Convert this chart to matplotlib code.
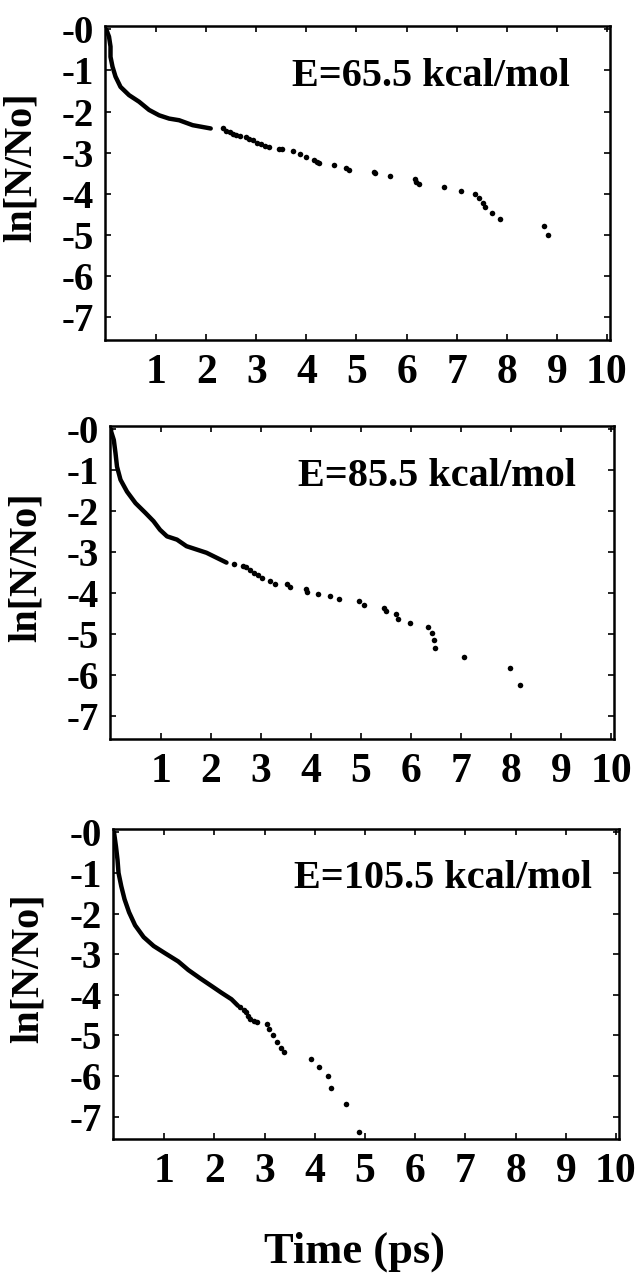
import numpy as np
import matplotlib
matplotlib.use('Agg')
import matplotlib.pyplot as plt

plt.rcParams['font.family'] = ['Liberation Serif', 'DejaVu Serif']
plt.rcParams['font.weight'] = 'bold'

# energies shown in each panel
labels = ['E=65.5 kcal/mol', 'E=85.5 kcal/mol', 'E=105.5 kcal/mol']

# dense (line-like) part of each decay curve
curve1_t = [0, 0.02, 0.06, 0.09, 0.09, 0.13, 0.19, 0.29, 0.46, 0.66, 0.86, 1.06, 1.26, 1.46, 1.73, 2.09]
curve1_y = [0, -0.05, -0.18, -0.42, -0.67, -0.91, -1.15, -1.40, -1.60, -1.76, -1.96, -2.09, -2.17, -2.21, -2.33, -2.41]
curve2_t = [0, 0.004, 0.056, 0.09, 0.12, 0.19, 0.32, 0.49, 0.69, 0.85, 0.98, 1.12, 1.32, 1.51, 1.71, 1.91, 2.11, 2.31]
curve2_y = [0, -0.06, -0.26, -0.58, -0.91, -1.23, -1.52, -1.80, -2.04, -2.24, -2.45, -2.61, -2.69, -2.85, -2.93, -3.01, -3.13, -3.25]
curve3_t = [0, 0.04, 0.07, 0.09, 0.145, 0.21, 0.30, 0.42, 0.59, 0.79, 1.02, 1.28, 1.48, 1.71, 1.95, 2.14, 2.34, 2.47]
curve3_y = [0, -0.36, -0.68, -1.0, -1.33, -1.65, -1.97, -2.29, -2.58, -2.80, -2.98, -3.18, -3.39, -3.59, -3.79, -3.95, -4.11, -4.27]

# separate dots at later times
dots1_t = [2.33, 2.40, 2.47, 2.54, 2.60, 2.68, 2.79, 2.86, 2.93, 3.02, 3.09, 3.18, 3.26, 3.46, 3.51, 3.74, 3.87,
           3.99, 4.16, 4.21, 4.25, 4.56, 4.79, 4.85, 5.35, 5.37, 5.66, 6.16, 6.19, 6.24, 6.74, 7.09, 7.36, 7.45,
           7.53, 7.56, 7.71, 7.86, 8.75, 8.82]
dots1_y = [-2.41, -2.46, -2.50, -2.54, -2.57, -2.59, -2.61, -2.66, -2.69, -2.76, -2.79, -2.83, -2.86, -2.90, -2.92,
           -2.96, -3.04, -3.11, -3.18, -3.22, -3.26, -3.30, -3.36, -3.41, -3.46, -3.50, -3.57, -3.63, -3.71, -3.76,
           -3.84, -3.92, -4.01, -4.11, -4.21, -4.33, -4.46, -4.62, -4.78, -5.01]
dots2_t = [2.45, 2.64, 2.70, 2.78, 2.86, 2.94, 3.02, 3.18, 3.27, 3.52, 3.57, 3.90, 3.91, 4.13, 4.38, 4.55, 4.95,
           5.06, 5.46, 5.50, 5.69, 5.74, 5.97, 6.34, 6.42, 6.45, 6.47, 7.05, 7.98, 8.18]
dots2_y = [-3.28, -3.34, -3.36, -3.43, -3.50, -3.56, -3.62, -3.70, -3.76, -3.78, -3.84, -3.90, -3.96, -4.01, -4.07,
           -4.14, -4.19, -4.28, -4.35, -4.43, -4.51, -4.62, -4.72, -4.83, -4.97, -5.13, -5.32, -5.54, -5.83, -6.23]
dots3_t = [2.51, 2.58, 2.63, 2.67, 2.71, 2.78, 2.84, 3.04, 3.08, 3.16, 3.24, 3.32, 3.39, 3.93, 4.08, 4.27, 4.32,
           4.62, 4.89]
dots3_y = [-4.31, -4.37, -4.43, -4.52, -4.60, -4.65, -4.68, -4.72, -4.84, -5.00, -5.16, -5.31, -5.42, -5.57, -5.77,
           -5.99, -6.29, -6.68, -7.38]

xticks = [1, 2, 3, 4, 5, 6, 7, 8, 9, 10]
yticks = [0, -1, -2, -3, -4, -5, -6, -7]
ytick_labels = ['-0', '-1', '-2', '-3', '-4', '-5', '-6', '-7']

curves = [(curve1_t, curve1_y), (curve2_t, curve2_y), (curve3_t, curve3_y)]
dots = [(dots1_t, dots1_y), (dots2_t, dots2_y), (dots3_t, dots3_y)]

W, H = 643, 1274
fig = plt.figure(figsize=(W / 100, H / 100), dpi=100)

# axes boxes in pixels: left, right, top, bottom
boxes = [(105, 610, 26, 340), (110, 614, 426, 739), (113, 619, 829, 1139)]
label_x = [0.92, 0.925, 0.947]

for i in range(3):
    l, r, t, b = boxes[i]
    ax = fig.add_axes([l / W, 1 - b / H, (r - l) / W, (b - t) / H])
    ax.plot(curves[i][0], curves[i][1], color='black', lw=3.2, solid_capstyle='round')
    ax.plot(dots[i][0], dots[i][1], 'o', color='black', ms=4, mew=0)
    ax.set_xlim(-0.02, 10.06)
    ax.set_ylim(-7.55, 0.08)
    ax.set_xticks(xticks)
    ax.set_xticklabels([str(v) for v in xticks])
    ax.set_yticks(yticks)
    ax.set_yticklabels(ytick_labels)
    ax.tick_params(direction='in', top=True, right=True, length=4, width=1.2)
    ax.tick_params(axis='x', labelsize=30, pad=10)
    ax.tick_params(axis='y', labelsize=28, pad=8)
    for s in ax.spines.values():
        s.set_linewidth(1.8)
    ax.set_ylabel('ln[N/No]', fontsize=29, fontweight='bold')
    ax.yaxis.set_label_coords(-0.13, 0.55)
    ax.text(label_x[i], 0.84, labels[i], transform=ax.transAxes, ha='right', va='center',
            fontsize=29, fontweight='bold')

fig.text(355 / W, 1 - 1252 / H, 'Time (ps)', ha='center', va='center', fontsize=32, fontweight='bold')

fig.savefig('out.png', dpi=100)
